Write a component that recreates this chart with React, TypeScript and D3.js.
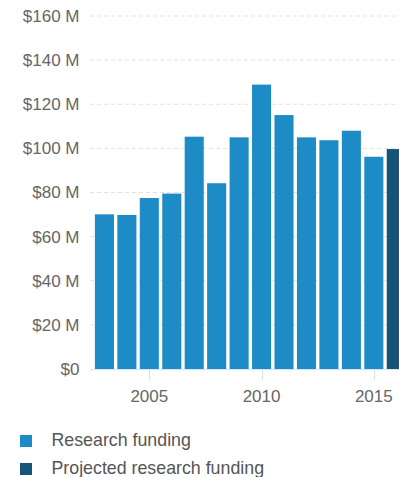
import React from "react";
import * as d3 from "d3";

const years = [2003, 2004, 2005, 2006, 2007, 2008, 2009, 2010, 2011, 2012, 2013, 2014, 2015, 2016];
const funding = [70.1, 69.8, 77.5, 79.5, 105.3, 84.2, 105, 128.9, 115.1, 105, 103.7, 108, 96.2, 99.7];
const projected = [false, false, false, false, false, false, false, false, false, false, false, false, false, true];
const yTicks = [0, 20, 40, 60, 80, 100, 120, 140, 160];
const xTicks = [2005, 2010, 2015];
const legendLabels = ["Research funding", "Projected research funding"];

const W = 399;
const H = 477;
const BLUE = "#1d8cc6";
const DARK = "#155477";
const FONT = "'Liberation Sans', Arial, sans-serif";

export default function App() {
  const x = d3
    .scaleBand<number>()
    .domain(years)
    .range([93.2, 407.5])
    .paddingInner(0.15)
    .paddingOuter(0.075);
  const y = d3.scaleLinear().domain([0, 160]).range([369, 16]);
  const gridX0 = 90;
  const centers = (yr: number) => (x(yr) as number) + x.bandwidth() / 2;

  return (
    <svg
      width={W}
      height={H}
      style={{ position: "absolute", left: 0, top: 0, overflow: "hidden", background: "#fff" }}
      fontFamily={FONT}
    >
      {yTicks.map((t) => (
        <g key={t}>
          {t > 0 && (
            <line
              x1={gridX0}
              x2={W}
              y1={y(t)}
              y2={y(t)}
              stroke="#e2e2e2"
              strokeDasharray="4,3"
            />
          )}
          <text
            x={79.5}
            y={y(t)}
            dy="0.35em"
            textAnchor="end"
            fontSize={17}
            fill="#666"
          >
            {t === 0 ? "$0" : `$${t} M`}
          </text>
        </g>
      ))}
      {years.map((yr, i) => (
        <rect
          key={yr}
          x={x(yr)}
          y={y(funding[i])}
          width={x.bandwidth()}
          height={y(0) - y(funding[i])}
          fill={projected[i] ? DARK : BLUE}
        />
      ))}
      <line x1={gridX0} x2={W} y1={369.5} y2={369.5} stroke="#ccebf5" strokeWidth={1} />
      {xTicks.map((t) => (
        <g key={t}>
          <line
            x1={Math.round(centers(t)) + 0.5}
            x2={Math.round(centers(t)) + 0.5}
            y1={370}
            y2={380}
            stroke="#ddd"
          />
          <text x={centers(t)} y={396.5} dy="0.35em" textAnchor="middle" fontSize={17} fill="#666">
            {t}
          </text>
        </g>
      ))}
      {legendLabels.map((lab, i) => (
        <g key={lab} transform={`translate(20, ${435 + i * 28})`}>
          <rect x={0} y={0} width={12} height={12} fill={i === 0 ? BLUE : DARK} />
          <text x={31.5} y={4.5} dy="0.35em" fontSize={17.8} fill="#555">
            {lab}
          </text>
        </g>
      ))}
    </svg>
  );
}
